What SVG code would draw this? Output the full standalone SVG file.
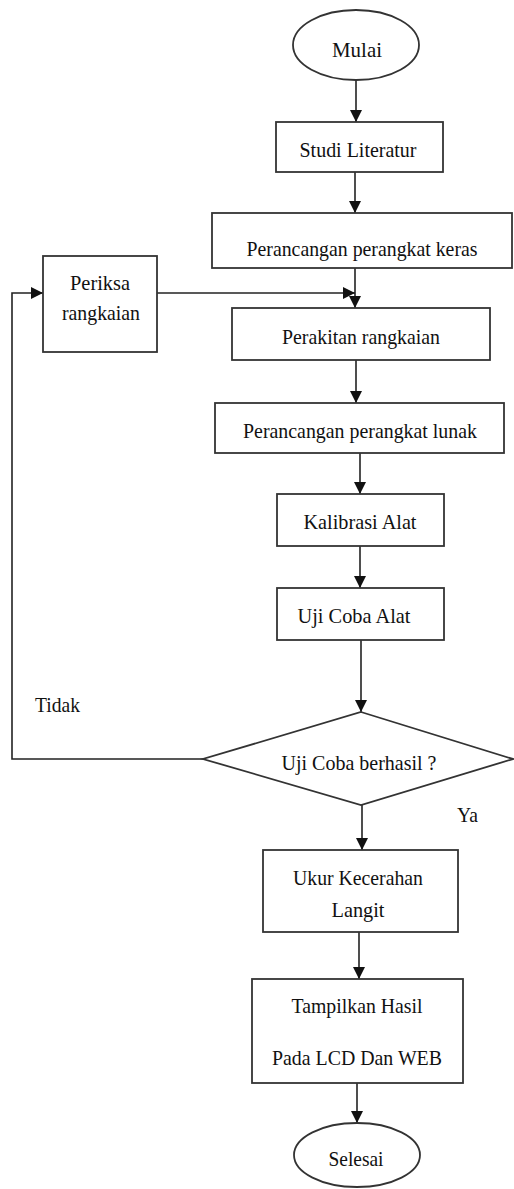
<svg xmlns="http://www.w3.org/2000/svg" width="514" height="1189" viewBox="0 0 514 1189">
<defs>
<marker id="arr" markerUnits="userSpaceOnUse" markerWidth="12" markerHeight="12" viewBox="0 0 12 12" refX="12" refY="6" orient="auto">
<path d="M0,0 L12,6 L0,12 Z" fill="#111"/>
</marker>
</defs>
<style>
.box{fill:#fff;stroke:#333;stroke-width:1.8}
.t{font-family:"Liberation Serif","Times New Roman","DejaVu Serif",serif;font-size:21px;fill:#111;text-anchor:middle}
.tl{font-family:"Liberation Serif","Times New Roman","DejaVu Serif",serif;font-size:21px;fill:#111}
.c{fill:none;stroke:#222;stroke-width:1.6}
</style>
<rect width="514" height="1189" fill="#fff"/>
<g id="connectors">
<line class="c" x1="356" y1="80" x2="356" y2="122" marker-end="url(#arr)"/>
<line class="c" x1="355" y1="172" x2="355" y2="213" marker-end="url(#arr)"/>
<line class="c" x1="355" y1="268" x2="355" y2="308" marker-end="url(#arr)"/>
<line class="c" x1="157" y1="293" x2="355" y2="293" marker-end="url(#arr)"/>
<line class="c" x1="356" y1="360" x2="356" y2="403" marker-end="url(#arr)"/>
<line class="c" x1="360" y1="453" x2="360" y2="494" marker-end="url(#arr)"/>
<line class="c" x1="360" y1="546" x2="360" y2="588" marker-end="url(#arr)"/>
<line class="c" x1="361" y1="640" x2="361" y2="712" marker-end="url(#arr)"/>
<line class="c" x1="362" y1="805" x2="362" y2="850" marker-end="url(#arr)"/>
<line class="c" x1="359" y1="932" x2="359" y2="979" marker-end="url(#arr)"/>
<line class="c" x1="357" y1="1083" x2="357" y2="1123" marker-end="url(#arr)"/>
<polyline class="c" points="203,759 12,759 12,293 43,293" marker-end="url(#arr)"/>
<text class="tl" x="35" y="712" textLength="45" lengthAdjust="spacingAndGlyphs">Tidak</text>
<text class="tl" x="457" y="822" textLength="21" lengthAdjust="spacingAndGlyphs">Ya</text>
</g>
<g id="mulai">
<ellipse class="box" cx="356" cy="45" rx="63" ry="35"/>
<text class="t" x="357" y="57" font-size="23" textLength="50" lengthAdjust="spacingAndGlyphs">Mulai</text>
</g>
<g id="studi">
<rect class="box" x="276" y="122" width="167" height="50"/>
<text class="t" x="358" y="157" textLength="117" lengthAdjust="spacingAndGlyphs">Studi Literatur</text>
</g>
<g id="keras">
<rect class="box" x="212" y="213" width="300" height="55"/>
<text class="t" x="362" y="256" textLength="231" lengthAdjust="spacingAndGlyphs">Perancangan perangkat keras</text>
</g>
<g id="periksa">
<rect class="box" x="43" y="256" width="114" height="96"/>
<text class="t" x="100" y="290" textLength="60" lengthAdjust="spacingAndGlyphs">Periksa</text>
<text class="t" x="101" y="320" textLength="78" lengthAdjust="spacingAndGlyphs">rangkaian</text>
</g>
<g id="perakitan">
<rect class="box" x="232" y="308" width="258" height="52"/>
<text class="t" x="361" y="344" textLength="158" lengthAdjust="spacingAndGlyphs">Perakitan rangkaian</text>
</g>
<g id="lunak">
<rect class="box" x="215" y="403" width="289" height="50"/>
<text class="t" x="360" y="438" textLength="234" lengthAdjust="spacingAndGlyphs">Perancangan perangkat lunak</text>
</g>
<g id="kalibrasi">
<rect class="box" x="277" y="494" width="167" height="52"/>
<text class="t" x="360" y="529" textLength="113" lengthAdjust="spacingAndGlyphs">Kalibrasi Alat</text>
</g>
<g id="ujicoba">
<rect class="box" x="277" y="588" width="167" height="52"/>
<text class="t" x="354" y="623" textLength="113" lengthAdjust="spacingAndGlyphs">Uji Coba Alat</text>
</g>
<g id="keputusan">
<polygon class="box" points="361,712 513,759 361,805 203,759"/>
<text class="t" x="359" y="770" textLength="155" lengthAdjust="spacingAndGlyphs">Uji Coba berhasil ?</text>
</g>
<g id="ukur">
<rect class="box" x="263" y="850" width="195" height="82"/>
<text class="t" x="358" y="885" textLength="130" lengthAdjust="spacingAndGlyphs">Ukur Kecerahan</text>
<text class="t" x="358" y="917" textLength="53" lengthAdjust="spacingAndGlyphs">Langit</text>
</g>
<g id="tampilkan">
<rect class="box" x="252" y="979" width="211" height="104"/>
<text class="t" x="357" y="1013" textLength="131" lengthAdjust="spacingAndGlyphs">Tampilkan Hasil</text>
<text class="t" x="357" y="1065" textLength="170" lengthAdjust="spacingAndGlyphs">Pada LCD Dan WEB</text>
</g>
<g id="selesai">
<ellipse class="box" cx="357" cy="1155" rx="63" ry="32"/>
<text class="t" x="356" y="1166" textLength="55" lengthAdjust="spacingAndGlyphs">Selesai</text>
</g>
</svg>
